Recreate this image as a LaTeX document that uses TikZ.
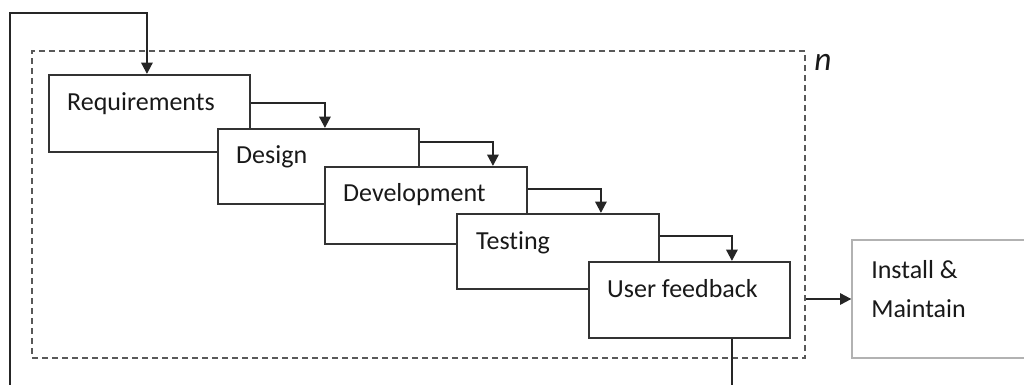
\documentclass[tikz,border=0pt]{standalone}
\usepackage{fontspec}
\setmainfont{Carlito}[Ligatures=NoCommon]
\usetikzlibrary{arrows.meta,fit,calc}
\begin{document}
\begin{tikzpicture}[x=0.75pt,y=-0.75pt,
  stagebox/.style={draw=black!80, line width=1.6pt, fill=white, inner sep=0pt},
  installbox/.style={draw=black!30, line width=1pt, fill=white, inner sep=0pt},
  dashbox/.style={draw=black!65, line width=1.7pt, dash pattern=on 4.5pt off 3pt, inner sep=0pt},
  stagetext/.style={anchor=base west, inner sep=0pt, font=\fontsize{19.5}{23}\selectfont, text=black!90},
  flow/.style={draw=black!85, line width=1.6pt, -{Triangle[length=8.5pt,width=8.5pt]}},
  plainline/.style={draw=black!85, line width=1.6pt}]
\useasboundingbox (0,0) rectangle (1024,385);
\fill[white] (0,0) rectangle (1024,385);
\clip (0,0) rectangle (1024,385);

% dashed iteration frame
\node[dashbox, fit={(32,51) (805,358)}] (loop) {};
\node[anchor=base west, inner sep=0pt, font=\itshape\fontsize{25}{25}\selectfont, text=black!90] (nlabel) at (814,70) {n};

% stages
\node[stagebox, fit={(49,75) (250,152)}] (req) {};
\node[stagebox, fit={(218,129) (419,204)}] (des) {};
\node[stagebox, fit={(325,167) (527,244)}] (dev) {};
\node[stagebox, fit={(457,214) (659,289)}] (tst) {};
\node[stagebox, fit={(589,262) (790,338)}] (uf) {};

\node[stagetext] (reqT) at ($(req.north west)+(19,37)$) {Requirements};
\node[stagetext] (desT) at ($(des.north west)+(19,36)$) {Design};
\node[stagetext] (devT) at ($(dev.north west)+(19,36)$) {Development};
\node[stagetext] (tstT) at ($(tst.north west)+(20,37)$) {Testing};
\node[stagetext] (ufT) at ($(uf.north west)+(19,37)$) {User feedback};

% install & maintain
\node[installbox, fit={(852,240) (1040,358)}] (inst) {};
\node[stagetext] (instT1) at (871,278) {Install \&};
\node[stagetext] (instT2) at (871,317) {Maintain};

% cascade arrows
\draw[flow] ($(req.north east)+(0,29)$) -| ($(des.north west)+(108,0)$);
\draw[flow] ($(des.north east)+(0,14)$) -| ($(dev.north west)+(169,0)$);
\draw[flow] ($(dev.north east)+(0,23)$) -| ($(tst.north west)+(145,0)$);
\draw[flow] ($(tst.north east)+(0,23)$) -| ($(uf.north west)+(144,0)$);

% to install
\draw[flow] (loop.east |- inst.west) -- (inst.west);

% feedback loop
\coordinate (loopBL) at (10,400);
\coordinate (loopTL) at (10,13);
\draw[flow] ($(uf.south west)+(144,0)$) |- (loopBL) -- (loopTL) -| ($(req.north west)+(99,0)$);
\end{tikzpicture}
\end{document}
